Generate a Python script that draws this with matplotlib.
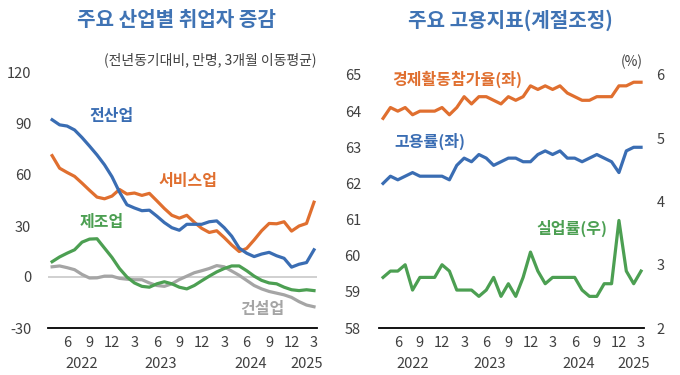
import matplotlib
matplotlib.use("Agg")
import matplotlib.pyplot as plt
import matplotlib.transforms as mtransforms
import numpy as np
import pandas as pd

plt.rcParams['font.family'] = ['Noto Sans CJK KR', 'DejaVu Sans']
plt.rcParams['axes.unicode_minus'] = False

# monthly, 2022-04 .. 2025-03
periods = pd.period_range('2022-04', '2025-03', freq='M')

# 주요 산업별 취업자 증감 (만명)
total = [92.5, 89.5, 88.8, 86.5, 82, 77, 71.8, 66, 59, 50, 42.5, 40.6,
         39, 39.3, 35.8, 32, 29, 27.5, 31, 31, 31, 32.5, 33, 29,
         24, 17, 14, 12, 13.5, 14.5, 12.5, 11, 5.8, 7.5, 8.5, 16]
services = [71.4, 64, 61.5, 59.2, 55.2, 51, 47, 46, 47.6, 51.5, 48.8, 49.4,
            48, 49.2, 44.8, 40.3, 36.3, 34.6, 36.3, 32.2, 28.6, 26.2, 27.2, 23.2,
            18.8, 15, 16.8, 21.8, 27.2, 31.5, 31.3, 32.5, 27, 30, 31.5, 44]
manufacturing = [9, 11.8, 14, 16, 20.5, 22.3, 22.5, 17, 11.5, 5, 0, -3.5,
                 -5.5, -6, -4, -2.8, -4, -6, -7, -5, -2.2, 0.5, 3, 5,
                 6.5, 6.5, 3.7, 0.5, -2, -3.5, -4, -6, -7.5, -8, -7.5, -8]
construction = [6, 6.5, 5.5, 4.3, 1.5, -0.6, -0.5, 0.5, 0.5, -0.8, -1.3, -1.6,
                -1.6, -3.5, -5, -5.5, -4, -1.5, 0.5, 2.5, 3.7, 5, 6.7, 6,
                3.5, 1, -2, -5, -7, -8.5, -9.5, -10.5, -12, -14.5, -16.5, -17.5]

# 주요 고용지표 (계절조정, %)
participation = [63.8, 64.1, 64.0, 64.1, 63.9, 64.0, 64.0, 64.0, 64.1, 63.9, 64.1, 64.4,
                 64.2, 64.4, 64.4, 64.3, 64.2, 64.4, 64.3, 64.4, 64.7, 64.6, 64.7, 64.6,
                 64.7, 64.5, 64.4, 64.3, 64.3, 64.4, 64.4, 64.4, 64.7, 64.7, 64.8, 64.8]
employment = [62.0, 62.2, 62.1, 62.2, 62.3, 62.2, 62.2, 62.2, 62.2, 62.1, 62.5, 62.7,
              62.6, 62.8, 62.7, 62.5, 62.6, 62.7, 62.7, 62.6, 62.6, 62.8, 62.9, 62.8,
              62.9, 62.7, 62.7, 62.6, 62.7, 62.8, 62.7, 62.6, 62.3, 62.9, 63.0, 63.0]
unemployment = [2.8, 2.9, 2.9, 3.0, 2.6, 2.8, 2.8, 2.8, 3.0, 2.9, 2.6, 2.6,
                2.6, 2.5, 2.6, 2.8, 2.5, 2.7, 2.5, 2.8, 3.2, 2.9, 2.7, 2.8,
                2.8, 2.8, 2.8, 2.6, 2.5, 2.5, 2.7, 2.7, 3.7, 2.9, 2.7, 2.9]

years = ['2022', '2023', '2024', '2025']
year_pos = [4, 14.5, 26.5, 34]

BLUE = '#3a6db3'
ORANGE = '#e06f2f'
GREEN = '#4c9f52'
GRAY = '#a5a5a5'
TITLE = '#3f73b4'
TEXT = '#404040'

x = np.arange(len(periods))
tick_idx = [i for i, p in enumerate(periods) if p.month % 3 == 0]
tick_lbl = [str(periods[i].month) for i in tick_idx]


def style_axis(ax):
    for s in ['top', 'right', 'left']:
        ax.spines[s].set_visible(False)
    ax.spines['bottom'].set_color('black')
    ax.spines['bottom'].set_linewidth(1.3)
    ax.set_xlim(-0.55, 35.4)
    ax.set_xticks(tick_idx)
    ax.set_xticklabels(tick_lbl)
    ax.tick_params(axis='both', length=0, labelsize=10.5, colors=TEXT)
    ax.tick_params(axis='x', pad=6)
    trans = mtransforms.blended_transform_factory(ax.transData, ax.transAxes)
    for yr, xp in zip(years, year_pos):
        ax.text(xp, -0.115, yr, transform=trans, ha='center', va='top',
                fontsize=10.5, color=TEXT)


fig = plt.figure(figsize=(6.8, 3.75), dpi=100)

# left panel
ax1 = fig.add_axes([48 / 680, 47 / 375, 269 / 680, 255 / 375])
ax1.axhline(0, color='#c8c8c8', lw=1.2, zorder=1)
ax1.plot(x, construction, color=GRAY, lw=2.3)
ax1.plot(x, manufacturing, color=GREEN, lw=2.3)
ax1.plot(x, services, color=ORANGE, lw=2.3)
ax1.plot(x, total, color=BLUE, lw=2.3)
ax1.set_ylim(-30, 120)
ax1.set_yticks([-30, 0, 30, 60, 90, 120])
ax1.tick_params(axis='y', pad=12)
style_axis(ax1)

lab = dict(fontsize=11.5, fontweight='bold', ha='center', va='center')
ax1.text(7.9, 94.7, '전산업', color=BLUE, **lab)
ax1.text(18.1, 56.5, '서비스업', color=ORANGE, **lab)
ax1.text(6.7, 32.4, '제조업', color=GREEN, **lab)
ax1.text(28.1, -18.8, '건설업', color=GRAY, **lab)

# right panel
ax2 = fig.add_axes([379 / 680, 47 / 375, 265 / 680, 253 / 375])
ax2.plot(x, participation, color=ORANGE, lw=2.3)
ax2.plot(x, employment, color=BLUE, lw=2.3)
ax2.set_ylim(58, 65)
ax2.set_yticks(range(58, 66))
ax2.tick_params(axis='y', pad=13)
style_axis(ax2)

ax3 = ax2.twinx()
ax3.plot(x, unemployment, color=GREEN, lw=2.3)
ax3.set_ylim(2, 6)
ax3.set_yticks([2, 3, 4, 5, 6])
for s in ax3.spines.values():
    s.set_visible(False)
ax3.tick_params(axis='y', length=0, labelsize=10.5, colors=TEXT, pad=9)

ax2.text(10.1, 64.89, '경제활동참가율(좌)', color=ORANGE, **lab)
ax2.text(6.3, 63.17, '고용률(좌)', color=BLUE, **lab)
ax2.text(25.6, 60.75, '실업률(우)', color=GREEN, **lab)

fig.text(176 / 680, 1 - 20 / 375, '주요 산업별 취업자 증감', ha='center', va='center',
         fontsize=14.5, fontweight='bold', color=TITLE)
fig.text(510 / 680, 1 - 20 / 375, '주요 고용지표(계절조정)', ha='center', va='center',
         fontsize=14.5, fontweight='bold', color=TITLE)
fig.text(317 / 680, 1 - 60 / 375, '(전년동기대비, 만명, 3개월 이동평균)', ha='right',
         va='center', fontsize=10, color=TEXT)
fig.text(632 / 680, 1 - 62 / 375, '(%)', ha='center', va='center',
         fontsize=10, color=TEXT)

fig.savefig('out.png', dpi=100)
